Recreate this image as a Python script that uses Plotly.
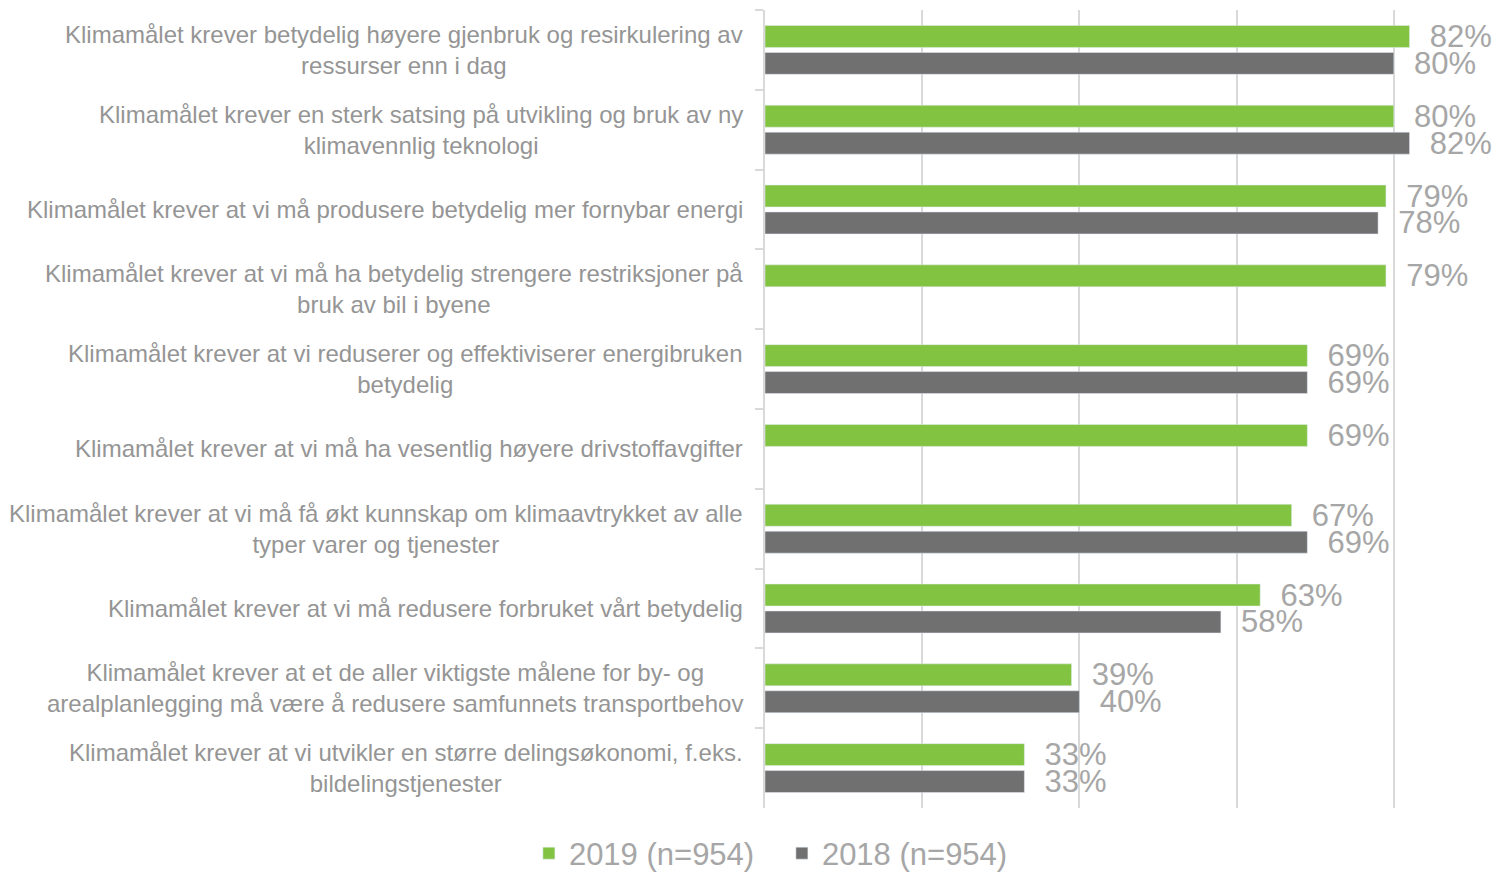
import plotly.graph_objects as go

categories = [
    "Klimamålet krever betydelig høyere gjenbruk og resirkulering av<br>ressurser enn i dag",
    "Klimamålet krever en sterk satsing på utvikling og bruk av ny<br>klimavennlig teknologi",
    "Klimamålet krever at vi må produsere betydelig mer fornybar energi",
    "Klimamålet krever at vi må ha betydelig strengere restriksjoner på<br>bruk av bil i byene",
    "Klimamålet krever at vi reduserer og effektiviserer energibruken<br>betydelig",
    "Klimamålet krever at vi må ha vesentlig høyere drivstoffavgifter",
    "Klimamålet krever at vi må få økt kunnskap om klimaavtrykket av alle<br>typer varer og tjenester",
    "Klimamålet krever at vi må redusere forbruket vårt betydelig",
    "Klimamålet krever at et de aller viktigste målene for by- og<br>arealplanlegging må være å redusere samfunnets transportbehov",
    "Klimamålet krever at vi utvikler en større delingsøkonomi, f.eks.<br>bildelingstjenester",
]
values_2019 = [82, 80, 79, 79, 69, 69, 67, 63, 39, 33]
values_2018 = [80, 82, 78, None, 69, None, 69, 58, 40, 33]

GREEN = "#82c341"
GREY = "#707070"
LABEL = "#a6a6a6"
CAT = "#959595"
GRID = "#d9d9d9"
FONT = "Liberation Sans, Arial, sans-serif"

ykeys = list(range(len(categories)))

fig = go.Figure()
for name, vals, col in [("2019 (n=954)", values_2019, GREEN),
                        ("2018 (n=954)", values_2018, GREY)]:
    fig.add_trace(go.Bar(
        y=ykeys, x=vals, orientation="h", name=name,
        marker_color=col,
        texttemplate="\u00a0\u00a0%{x}%", textposition="outside",
        textfont=dict(size=31, color=LABEL), constraintext="none",
        cliponaxis=False,
    ))

# category labels: right-aligned block, lines centred
for i, c in enumerate(categories):
    fig.add_annotation(
        x=0, xref="paper", xanchor="right", xshift=-20,
        y=i, yref="y", text=c, showarrow=False, align="center",
        font=dict(size=24, color=CAT, family=FONT),
    )

fig.update_layout(
    width=1496, height=872,
    margin=dict(l=765, r=0, t=10, b=64, autoexpand=False),
    plot_bgcolor="white", paper_bgcolor="white",
    font=dict(family=FONT, color=LABEL),
    barmode="group", bargap=0.325, bargroupgap=0.185,
    showlegend=True,
    legend=dict(orientation="h", x=-0.323, xanchor="left", y=-0.057, yanchor="middle",
                font=dict(size=31, color=LABEL), traceorder="normal", entrywidth=208),
    xaxis=dict(range=[0, 93], dtick=20, showticklabels=False, showgrid=True,
               gridcolor=GRID, gridwidth=1.5, zeroline=False, showline=False),
    yaxis=dict(type="category", autorange="reversed", showticklabels=False,
               showgrid=False, showline=True, linecolor=GRID, linewidth=1.5,
               ticks="outside", tickson="boundaries", ticklen=8, tickcolor=GRID,
               tickwidth=1.5),
)

# drop the default 8px page margin so the figure fills the window
fig.write_html("out.html", config={"displayModeBar": False},
               post_script="document.body.style.margin = '0';")
